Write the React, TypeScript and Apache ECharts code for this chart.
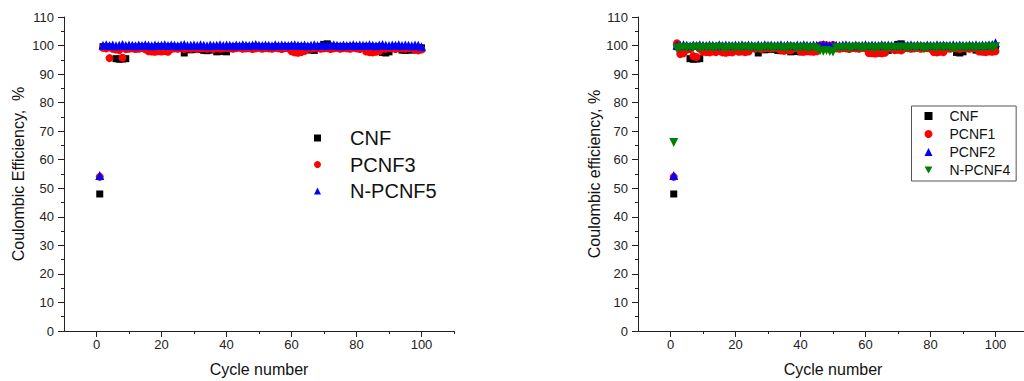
import React, { useEffect, useRef } from "react";
import * as echarts from "echarts";

// ---------- data ----------
const majorXTicks = [0, 20, 40, 60, 80, 100];
const minorXTicks = [10, 30, 50, 70, 90, 110];

const leftNames = ["CNF", "PCNF3", "N-PCNF5"];
const rightNames = ["CNF", "PCNF1", "PCNF2", "N-PCNF4"];

// Coulombic efficiency (%) for cycles 1..100
const cnf = [
  48, 99.6, 99.4, 99.5, 99.2, 95.4, 95.2, 95.3, 95.4, 99.3,
  99.4, 99.5, 99.3, 99.6, 99.4, 99.5, 99.2, 99.4, 99.6, 99.3, 99.5, 99.4, 99.6, 99.3, 99.5,
  99.2, 97.4, 98.6, 98.5, 98.7, 98.6, 99.3, 98.3, 98.2, 98.4, 99.4, 97.8, 97.9, 98.0, 97.8,
  99.5, 99.4, 99.6, 99.3, 99.5, 99.6, 99.4, 99.5, 99.7, 99.5, 99.4, 99.6, 99.5, 99.3, 99.6,
  99.5, 99.4, 99.6, 99.5, 99.7, 99.4, 99.5, 99.6, 99.4, 99.5,
  98.4, 98.3, 99.5, 99.6, 100.4, 100.6, 99.8,
  99.6, 99.5, 99.7, 99.4, 99.6, 99.5, 99.7, 99.6, 99.4, 99.5, 99.7, 99.6, 99.5, 99.4, 99.6,
  97.6, 97.4, 97.8, 99.0, 99.5, 99.4, 98.4, 98.3, 98.5, 98.4, 98.6, 99.3, 99.2,
];

const pcnf3 = [
  54, 99.2, 99.0, 95.6, 98.9, 98.6, 98.4, 95.7, 98.8, 98.9,
  99.0, 98.8, 98.9, 99.1, 98.7,
  98.0, 97.9, 97.8, 98.0, 97.9, 98.1, 97.8,
  98.8, 99.0, 98.9, 99.1, 98.8, 99.0, 98.9, 99.2, 98.8, 99.0, 99.1, 98.9, 99.0, 98.8, 99.1, 98.9, 99.0, 99.2,
  99.0, 98.9, 99.1, 99.2, 98.9, 99.0, 99.1, 98.8, 99.0, 99.2, 98.9, 99.1, 99.0, 98.9, 99.2, 99.0, 98.8, 99.1, 99.0,
  98.0, 97.6, 97.5, 97.7, 98.1,
  99.0, 98.9, 99.1, 99.2, 98.9, 99.0, 99.1, 98.8, 99.0, 99.2, 98.9, 99.1, 99.0, 98.9, 99.2, 99.0, 98.8, 99.1,
  97.9, 97.7, 97.6, 97.8, 98.0,
  99.0, 98.9, 99.1, 99.0, 98.8, 99.1, 99.0, 98.9, 99.1, 99.0,
  98.5, 98.3, 98.6,
];

const npcnf5 = [
  54.5, 100.1, 100.3, 100.0, 100.2, 99.9, 100.1, 100.4, 100.0, 100.2,
  100.1, 99.9, 100.2, 100.0, 100.3, 100.1, 99.9, 100.2, 100.0, 100.1,
  100.3, 100.0, 100.2, 100.1, 99.9, 100.2, 100.4, 100.0, 100.1, 100.2,
  100.0, 100.3, 100.1, 99.9, 100.2, 100.0, 100.1, 100.3, 100.0, 100.2,
  100.1, 99.9, 100.2, 100.0, 100.3, 100.1, 100.0, 100.2, 100.4, 100.1,
  100.0, 100.2, 100.1, 99.9, 100.3, 100.0, 100.2, 100.1, 100.0, 100.2,
  100.3, 100.1, 100.0, 100.2, 99.9, 100.1, 100.3, 100.0, 100.2, 100.1,
  100.0, 100.2, 100.3, 100.1, 99.9, 100.2, 100.0, 100.1, 100.3, 100.0,
  100.2, 100.1, 100.0, 100.3, 100.1, 99.9, 100.2, 100.4, 100.1, 100.0,
  100.2, 100.1, 100.3, 100.0, 100.2, 100.1, 99.9, 100.2, 100.1, 99.6,
];

const pcnf1 = [
  54, 100.8, 97.0, 97.3, 98.6, 98.8, 96.3, 96.0, 98.9,
  97.8, 97.7, 97.6, 97.9, 97.7, 98.8, 97.6, 97.5, 97.7, 97.6, 98.9,
  97.8, 97.9, 97.7, 97.9,
  99.0, 98.9, 99.1, 98.8, 99.0, 99.2, 98.9, 99.1, 99.0,
  98.3, 98.2, 98.4, 98.3, 99.0, 99.1,
  97.9, 97.8, 98.0, 97.9, 97.8, 98.0,
  100.0, 100.3, 100.1, 99.9, 100.2,
  99.0, 98.9, 99.1, 99.0, 98.8, 99.1, 99.0, 98.9, 99.2, 99.0,
  97.4, 97.3, 97.2, 97.4, 97.3, 97.5, 99.0, 98.9, 98.4, 98.5, 98.3,
  99.0, 99.1, 98.9, 99.0, 99.2, 98.9, 99.0, 99.1, 98.9,
  97.7, 97.6, 97.8, 97.7,
  99.0, 98.9, 99.1, 99.0, 98.8, 99.1, 99.0, 98.9, 99.1, 99.0,
  97.9, 97.8, 97.7, 97.9, 97.8, 98.0,
];

const pcnf2 = [
  54.5, 100.2, 100.0, 100.3, 100.1, 99.9, 100.2, 100.0, 100.3, 100.1,
  100.0, 100.2, 100.1, 99.9, 100.3, 100.0, 100.2, 100.1, 100.0, 100.2,
  100.1, 100.3, 100.0, 100.2, 100.1, 99.9, 100.2, 100.0, 100.3, 100.1,
  100.2, 100.0, 100.1, 100.3, 100.0, 100.2, 100.1, 99.9, 100.2, 100.0,
  100.3, 100.1, 100.0, 100.2, 100.1, 100.2, 100.3, 100.1, 100.0, 100.2,
  100.1, 100.0, 100.2, 100.3, 100.1, 99.9, 100.2, 100.0, 100.1, 100.3,
  100.0, 100.2, 100.1, 100.0, 100.3, 100.1, 100.2, 100.0, 100.1, 100.4,
  100.2, 100.0, 100.1, 100.3, 100.0, 100.2, 100.1, 99.9, 100.2, 100.1,
  100.0, 100.3, 100.1, 100.2, 100.0, 100.1, 100.3, 100.0, 100.2, 100.1,
  100.0, 100.2, 100.1, 100.3, 100.0, 100.2, 100.1, 100.3, 100.4, 101.0,
];

const npcnf4 = [
  66, 98.9, 99.2, 99.4, 99.1, 99.3, 99.2, 99.5, 99.0, 99.3,
  99.2, 99.4, 99.1, 99.3, 99.5, 99.2, 99.0, 99.3, 99.4, 99.1,
  99.3, 99.2, 99.5, 99.1, 99.3, 99.4, 99.0, 99.2, 99.3, 99.5,
  99.2, 99.1, 99.4, 99.3, 99.0, 99.2, 99.5, 99.3, 99.1, 99.2,
  99.4, 99.0, 99.3, 99.2, 98.9, 98.2, 98.0, 98.3, 97.9, 97.7,
  99.1, 99.3, 99.2, 99.4, 99.0, 99.3, 99.5, 99.2, 99.1, 99.3,
  99.4, 99.2, 99.0, 99.3, 99.5, 99.2, 99.1, 99.4, 99.3, 99.2,
  99.5, 99.3, 99.1, 99.4, 99.2, 99.3, 99.5, 99.0, 99.2, 99.4,
  99.3, 99.1, 99.4, 99.2, 99.5, 99.3, 99.0, 99.2, 99.4, 99.3,
  99.2, 99.5, 99.3, 99.1, 99.4, 99.2, 99.3, 99.5, 99.2, 99.6,
];

// ---------- chart ----------
const FONT = "Liberation Sans, Arial, sans-serif";
const AXIS_COLOR = "#222";
const DOWN_TRIANGLE = "path://M0,0L10,0L5,9Z";

const toPoints = (arr: number[]) => arr.map((v, i) => [i + 1, v]);

function xAxes(gridIndex: number) {
  return [
    {
      type: "value",
      gridIndex,
      position: "bottom",
      min: -10,
      max: 110,
      name: "Cycle number",
      nameLocation: "middle",
      nameGap: 30,
      nameTextStyle: { fontFamily: FONT, fontSize: 16, color: "#111" },
      axisLine: { show: true, onZero: false, lineStyle: { color: AXIS_COLOR, width: 1 } },
      axisTick: { show: true, inside: false, length: 6, customValues: majorXTicks, lineStyle: { color: AXIS_COLOR } },
      axisLabel: { show: true, customValues: majorXTicks, margin: 7, fontFamily: FONT, fontSize: 13, color: "#222" },
      splitLine: { show: false },
    },
    {
      type: "value",
      gridIndex,
      position: "bottom",
      min: -10,
      max: 110,
      axisLine: { show: false, onZero: false },
      axisTick: { show: true, inside: false, length: 3, customValues: minorXTicks, lineStyle: { color: AXIS_COLOR } },
      axisLabel: { show: false },
      splitLine: { show: false },
    },
  ];
}

function yAxis(gridIndex: number, name: string, gap: number) {
  return {
    type: "value",
    gridIndex,
    position: "left",
    min: 0,
    max: 110,
    interval: 10,
    name,
    nameLocation: "middle",
    nameGap: gap,
    nameTextStyle: { fontFamily: FONT, fontSize: 16, color: "#111" },
    axisLine: { show: true, onZero: false, lineStyle: { color: AXIS_COLOR, width: 1 } },
    axisTick: { show: true, inside: false, length: 6, lineStyle: { color: AXIS_COLOR } },
    minorTick: { show: true, splitNumber: 2, length: 3, lineStyle: { color: AXIS_COLOR } },
    axisLabel: { margin: 10, fontFamily: FONT, fontSize: 13, color: "#222" },
    splitLine: { show: false },
    minorSplitLine: { show: false },
  };
}

function scatter(name: string, data: number[], xi: number, yi: number, symbol: string, size: number, color: string, rotate = 0) {
  return {
    type: "scatter",
    name,
    xAxisIndex: xi,
    yAxisIndex: yi,
    data: toPoints(data),
    symbol,
    symbolSize: size,
    symbolRotate: rotate,
    itemStyle: { color, opacity: 1 },
    emphasis: { disabled: true },
  };
}

export default function App() {
  const ref = useRef<HTMLDivElement>(null);
  useEffect(() => {
    if (!ref.current) return;
    const chart = echarts.init(ref.current, undefined, { renderer: "svg" });
    chart.setOption({
      animation: false,
      backgroundColor: "#fff",
      textStyle: { fontFamily: FONT },
      grid: [
        { left: 64, top: 17, width: 390, height: 314, containLabel: false, outerBoundsMode: "none" },
        { left: 638, top: 17, width: 390, height: 314, containLabel: false, outerBoundsMode: "none" },
      ],
      xAxis: [...xAxes(0), ...xAxes(1)],
      yAxis: [
        yAxis(0, "Coulombic Efficiency,  %", 38),
        yAxis(1, "Coulombic efficiency, %", 35),
      ],
      legend: [
        {
          orient: "vertical",
          left: 314,
          top: 128,
          padding: 0,
          itemWidth: 7,
          itemHeight: 7,
          itemGap: 6.5,
          selectedMode: false,
          data: leftNames,
          textStyle: { fontFamily: FONT, fontSize: 20, color: "#111", padding: [0, 0, 0, 24] },
        },
        {
          orient: "vertical",
          left: 911.5,
          top: 106,
          padding: [3, 6, 4, 13],
          borderColor: "#555",
          borderWidth: 1,
          itemWidth: 8,
          itemHeight: 8,
          itemGap: 4,
          selectedMode: false,
          data: rightNames.map((n) => (n === "N-PCNF4" ? { name: n, icon: DOWN_TRIANGLE } : n)),
          textStyle: { fontFamily: FONT, fontSize: 14, color: "#111", padding: [0, 0, 0, 12] },
        },
      ],
      series: [
        scatter("CNF", cnf, 0, 0, "rect", 7, "#000000"),
        scatter("PCNF3", pcnf3, 0, 0, "circle", 8, "#ff0000"),
        scatter("N-PCNF5", npcnf5, 0, 0, "triangle", 9, "#0000ff"),
        scatter("CNF", cnf, 2, 1, "rect", 7, "#000000"),
        scatter("PCNF1", pcnf1, 2, 1, "circle", 8, "#ff0000"),
        scatter("PCNF2", pcnf2, 2, 1, "triangle", 9, "#0000ff"),
        scatter("N-PCNF4", npcnf4, 2, 1, "triangle", 9, "#008000", 180),
      ],
    });
    return () => chart.dispose();
  }, []);
  return (
    <div
      ref={ref}
      style={{ position: "fixed", left: 0, top: 0, width: 1024, height: 381, background: "#fff" }}
    />
  );
}
